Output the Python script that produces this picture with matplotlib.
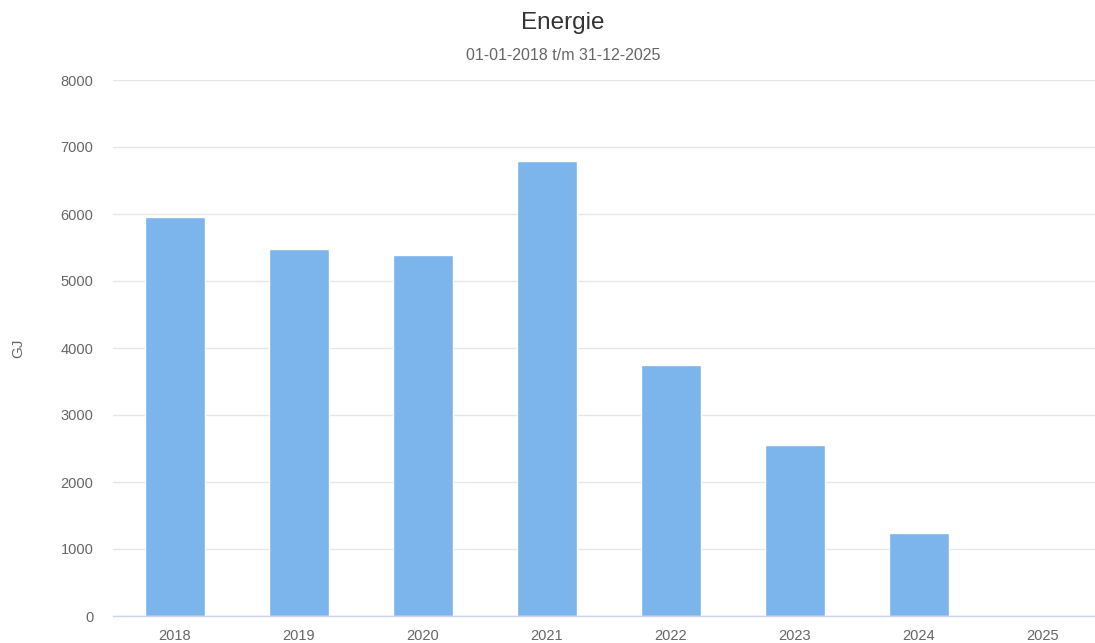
import matplotlib
matplotlib.use("Agg")
import matplotlib.pyplot as plt

# data
years = ["2018", "2019", "2020", "2021", "2022", "2023", "2024", "2025"]
energie_gj = [5960, 5480, 5385, 6795, 3745, 2555, 1240, 0]
y_ticks = [0, 1000, 2000, 3000, 4000, 5000, 6000, 7000, 8000]

plt.rcParams['font.family'] = ['Liberation Sans', 'DejaVu Sans']

W, H = 1095, 643
fig = plt.figure(figsize=(W / 100, H / 100), dpi=100)
# plot area runs a little past the right edge in the original
left, right, top, bottom = 113, 1105, 80, 616
ax = fig.add_axes([left / W, 1 - bottom / H, (right - left) / W, (bottom - top) / H])

x = range(len(years))
ax.bar(x, energie_gj, width=0.476, color="#7cb5ec", edgecolor="white",
       linewidth=1, zorder=3)

ax.set_xlim(-0.5, len(years) - 0.5)
ax.set_ylim(0, 8000)
ax.set_yticks(y_ticks)
ax.set_yticklabels([str(v) for v in y_ticks])
ax.set_xticks(list(x))
ax.set_xticklabels(years)

ax.grid(axis="y", color="#e6e6e6", linewidth=1, zorder=0)
for side in ["top", "right", "left"]:
    ax.spines[side].set_visible(False)
ax.spines["bottom"].set_color("#ccd6eb")
ax.spines["bottom"].set_linewidth(1)
ax.spines["bottom"].set_zorder(4)

ax.tick_params(axis="y", length=0, pad=14, labelsize=10.5, labelcolor="#666666")
ax.tick_params(axis="x", length=0, pad=9.5, labelsize=10.5, labelcolor="#666666")

fig.text(18 / W, 1 - 348 / H, "GJ", rotation=90, ha="center", va="center",
         fontsize=11, color="#666666")
fig.text(563 / W, 1 - 23 / H, "Energie", ha="center", va="center",
         fontsize=17.5, color="#333333")
fig.text(563 / W, 1 - 56 / H, "01-01-2018 t/m 31-12-2025", ha="center",
         va="center", fontsize=11.5, color="#666666")

fig.savefig("out.png", dpi=100, facecolor="white")
